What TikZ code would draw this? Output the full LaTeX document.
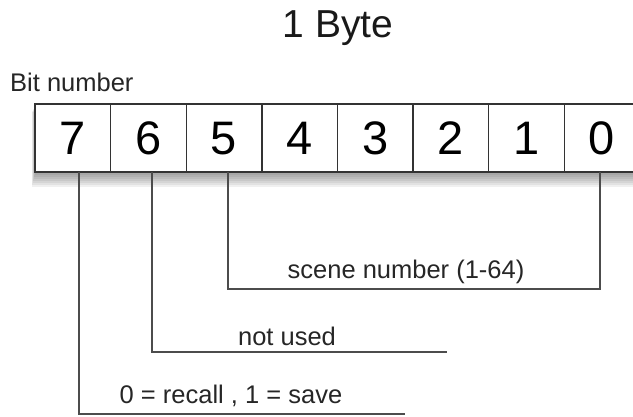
\documentclass[tikz,border=0pt]{standalone}
\usepackage{fontspec}
\setmainfont{Liberation Sans}
\begin{document}
\begin{tikzpicture}[x=1pt,y=-1pt,
  cell/.style={draw=black!80,line width=1.4pt,minimum width=75.6pt,minimum height=68pt,inner sep=0pt,fill=white,font=\fontsize{47}{47}\selectfont,text height=34pt,text depth=0pt},
  lbl/.style={font=\fontsize{25.5}{25.5}\selectfont,text=black!85,inner sep=0pt},
  wire/.style={draw=black!70,line width=2pt}]
\useasboundingbox (0,0) rectangle (633,417);
\clip (0,0) rectangle (633,417);
% shadow
\foreach \s in {2,4,...,14} \fill[black,opacity=0.06] (35-\s/4,105+\s/2) rectangle (645,173+\s);
% title texts
\node[font=\fontsize{39}{39}\selectfont,text=black!90,inner sep=0pt] (title) at (338,28) {1 Byte};
\node[lbl,anchor=west,font=\fontsize{25.5}{25.5}\selectfont] (bitnum) at (10,82) {Bit number};
% cells
\foreach \b [count=\i from 0] in {7,6,5,4,3,2,1,0}
  \node[cell] (c\b) at ({35+37.8+75.6*\i},138) {\b};
% anchor coordinates
\coordinate (a7) at (79,172);
\coordinate (a6) at (152,172);
\coordinate (a5) at (228,172);
\coordinate (a0) at (600,172);
\coordinate (e7) at (405,414);
\coordinate (e6) at (447,352);
% connectors
\draw[wire] (a5) |- (a0 |- 0,289) -- (a0);
\draw[wire] (a6) |- (e6);
\draw[wire] (a7) |- (e7);
% labels
\node[lbl] (scene) at (406,272) {scene number (1-64)};
\node[lbl] (unused) at (287,336) {not used};
\node[lbl] (rs) at (231,396) {0 = recall , 1 = save};
\end{tikzpicture}
\end{document}
